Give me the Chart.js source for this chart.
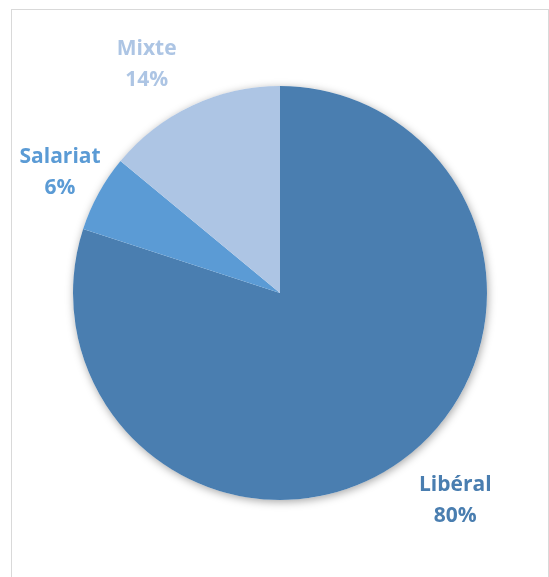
<!DOCTYPE html>
<html>
<head>
<meta charset="utf-8">
<script src="https://cdn.jsdelivr.net/npm/chart.js@4.4.1/dist/chart.umd.min.js"></script>
<style>
  html, body { margin: 0; padding: 0; background: #fff; }
  #wrap { position: relative; width: 549px; height: 577px; }
  #frame { position: absolute; left: 11px; top: 9px; width: 536px; height: 580px; border: 1px solid #d9d9d9; }
  canvas { position: absolute; left: 0; top: 0; }
</style>
</head>
<body>
<div id="wrap">
  <div id="frame"></div>
  <canvas id="pieChart" width="549" height="577"></canvas>
</div>
<script>
const categories = ['Libéral', 'Salariat', 'Mixte'];
const shares = [80, 6, 14];
const sliceColors = ['#4a7eb0', '#5b9bd5', '#adc5e4'];

// distance of each label from the rim, and a small turn off the slice middle (degrees)
const labelGap = [64, 44, 58];
const labelTurn = [-4.3, 0, -5];

// soft drop shadow behind the whole pie
const pieShadow = {
  id: 'pieShadow',
  beforeDatasetsDraw(chart) {
    const arc = chart.getDatasetMeta(0).data[0];
    if (!arc) return;
    const ctx = chart.ctx;
    ctx.save();
    ctx.shadowColor = 'rgba(0,0,0,0.35)';
    ctx.shadowBlur = 9;
    ctx.shadowOffsetX = 1;
    ctx.shadowOffsetY = 2;
    ctx.fillStyle = '#ffffff';
    ctx.beginPath();
    ctx.arc(arc.x, arc.y, arc.outerRadius, 0, Math.PI * 2);
    ctx.fill();
    ctx.restore();
  }
};

const outsideLabels = {
  id: 'outsideLabels',
  afterDatasetsDraw(chart) {
    const ctx = chart.ctx;
    const meta = chart.getDatasetMeta(0);
    ctx.save();
    ctx.font = 'bold 21px "Open Sans"';
    ctx.textAlign = 'center';
    ctx.textBaseline = 'middle';
    meta.data.forEach((arc, i) => {
      const mid = (arc.startAngle + arc.endAngle) / 2 + labelTurn[i] * Math.PI / 180;
      const d = arc.outerRadius + labelGap[i];
      const x = arc.x + Math.cos(mid) * d;
      const y = arc.y + Math.sin(mid) * d;
      ctx.fillStyle = sliceColors[i];
      ctx.fillText(categories[i], x, y - 15);
      ctx.fillText(shares[i] + '%', x, y + 16);
    });
    ctx.restore();
  }
};

new Chart(document.getElementById('pieChart'), {
  type: 'pie',
  data: {
    labels: categories,
    datasets: [{
      data: shares,
      backgroundColor: sliceColors,
      borderWidth: 0
    }]
  },
  options: {
    responsive: false,
    animation: false,
    layout: { padding: { left: 73, right: 62, top: 86, bottom: 77 } },
    plugins: {
      legend: { display: false },
      tooltip: { enabled: false }
    }
  },
  plugins: [pieShadow, outsideLabels]
});
</script>
</body>
</html>
